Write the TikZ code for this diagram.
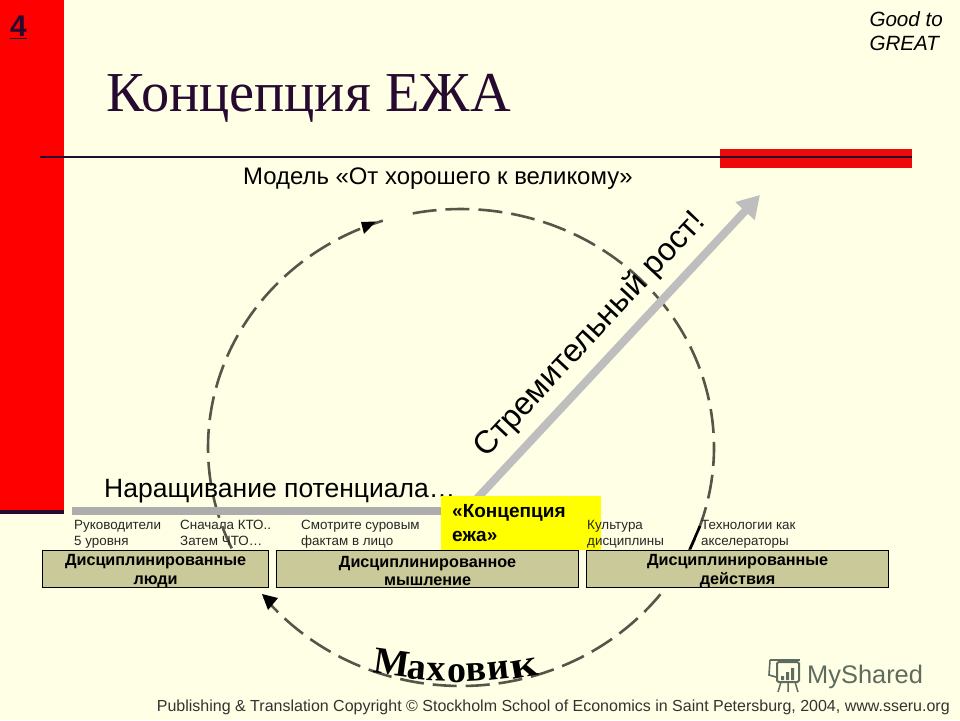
\documentclass[tikz,border=0pt]{standalone}
\usepackage{fontspec}
\setmainfont{Liberation Sans}
\newfontfamily\serifcy{Liberation Serif}
\usetikzlibrary{arrows.meta}
\definecolor{bgc}{HTML}{FFFFE5}
\definecolor{redc}{HTML}{FF0000}
\definecolor{red2c}{HTML}{EE0A0A}
\definecolor{darkc}{HTML}{260A30}
\definecolor{barc}{HTML}{ADADAD}
\definecolor{arrc}{HTML}{BEBEBE}
\definecolor{boxc}{HTML}{C9C999}
\definecolor{wheelc}{HTML}{55554A}
\definecolor{logoc}{HTML}{5F6B5C}
\definecolor{yelc}{HTML}{FFFF00}
\newcommand{\boxstrut}{\rule{0pt}{15.5pt}}
\tikzset{
  smalltxt/.style={font=\fontsize{13.4}{16}\selectfont,anchor=north west,align=left,inner sep=0pt,text=black!85},
  boxnode/.style={draw=black,line width=1.2pt,fill=boxc,minimum height=37,inner sep=0pt,align=center,font=\fontsize{16.2}{18.5}\selectfont\bfseries,anchor=north west},
  wheel/.style={draw=wheelc,line width=2.6pt,dash pattern=on 24 off 9},
  mah/.style={font=\serifcy\fontsize{38}{38}\selectfont\bfseries,inner sep=0pt,anchor=base}
}
\begin{document}
\begin{tikzpicture}[x=1pt,y=-1pt]
\useasboundingbox (0,0) rectangle (960,720);
\fill[bgc] (0,0) rectangle (960,720);
\fill[darkc] (0,509) rectangle (64,514);
\fill[redc] (0,0) rectangle (64,510);
\node[inner sep=0pt,text=darkc,font=\fontsize{30}{30}\selectfont\bfseries] (num) at (18.5,27) {\underline{4}};
\node[anchor=north east,align=left,inner sep=0pt,font=\fontsize{20.6}{24.5}\selectfont\itshape] (gtg) at (943,11) {Good to\\GREAT};
\node[anchor=base west,inner sep=0pt,text=darkc,font=\serifcy\fontsize{56.4}{56.4}\selectfont] (title) at (106,111) {Концепция ЕЖА};
\fill[red2c] (720,149) rectangle (912,168);
\draw[darkc,line width=2.4pt] (40,157) -- (912,157);
\node[anchor=base west,inner sep=0pt,font=\fontsize{23.9}{23.9}\selectfont] (model) at (243,184) {Модель «От хорошего к великому»};
% wheel
\draw[wheel] plot[domain=101:-141,samples=160,variable=\t] ({461+253*cos(\t)},{447.5-238.5*sin(\t)});
\draw[wheel] plot[domain=205:108,samples=100,variable=\t] ({461+253*cos(\t)},{447.5-238.5*sin(\t)});
\fill[black] (376,221.5) -- (361,222) -- (364,234) -- cycle;
\fill[black] (262,594) -- (278,598) -- (268,610) -- cycle;
% potential bar
\fill[barc] (72,507) rectangle (450,515);
\node[anchor=base west,inner sep=0pt,font=\fontsize{26.5}{26.5}\selectfont] (pot) at (104,497) {Наращивание потенциала…};
% growth arrow
\coordinate (ga) at (470,506);
\coordinate (gb) at (760,195);
\draw[arrc,line width=8pt,-{Triangle[length=22pt,width=25pt]}] (ga) -- (gb);
\node[rotate=47,inner sep=0pt,font=\fontsize{32}{32}\selectfont] (rost) at (590,335) {Стремительный рост!};
% yellow box
\node[anchor=north west,fill=yelc,minimum width=160,minimum height=54,inner sep=0pt] (yb) at (441,496) {};
\node[anchor=north west,inner sep=0pt,align=left,font=\fontsize{19}{24}\selectfont\bfseries] (yt) at (452,504.5) {«Концепция\\ежа»};
\draw[black,line width=2.6pt] (690,549) -- (700,526);
% small labels
\node[smalltxt] (s1) at (74,520) {Руководители\\5 уровня};
\node[smalltxt] (s2) at (180,520) {Сначала КТО..\\Затем ЧТО…};
\node[smalltxt] (s3) at (301,520) {Смотрите суровым\\фактам в лицо};
\node[smalltxt] (s4) at (587,520) {Культура\\дисциплины};
\node[smalltxt] (s5) at (701,520) {Технологии как\\акселераторы};
% boxes
\node[boxnode,minimum width=226] (b1) at (42,549.5) {\boxstrut Дисциплинированные\\люди};
\node[boxnode,minimum width=302] (b2) at (276,549.5) {\boxstrut Дисциплинированное\\мышление};
\node[boxnode,minimum width=302] (b3) at (586,549.5) {\boxstrut Дисциплинированные\\действия};
% flywheel word
\node[mah,rotate=-8] (m1) at (390,675) {М};
\node[mah,rotate=-5] (m2) at (416,679) {а};
\node[mah,rotate=-2] (m3) at (436,681) {х};
\node[mah] (m4) at (457,682) {о};
\node[mah,rotate=3] (m5) at (477,681) {в};
\node[mah,rotate=6] (m6) at (499,679) {и};
\node[mah,rotate=10,xscale=1.25] (m7) at (526,677) {к};
% logo
\node[anchor=base west,inner sep=0pt,text=logoc,font=\fontsize{25.4}{25.4}\selectfont] (logo) at (807,683) {MyShared};
\draw[logoc,line width=2pt,rounded corners=1.5pt] (777,662) rectangle (799,682);
\draw[logoc,line width=2pt] (770,660) -- (800,660);
\draw[logoc,line width=1.6pt] (770,660) -- (769,675) -- (776,677);
\fill[logoc] (781,676) rectangle (784,680) (786,672) rectangle (789,680) (791,668) rectangle (794,680);
\draw[logoc,line width=1.5pt] (781,682) -- (778,692) (788,682) -- (788,692) (795,682) -- (798,692);
% footer
\node[anchor=base east,inner sep=0pt,text=black!80,font=\fontsize{16}{16}\selectfont] (foot) at (950,711) {Publishing \& Translation Copyright © Stockholm School of Economics in Saint Petersburg, 2004, www.sseru.org};
\end{tikzpicture}
\end{document}
